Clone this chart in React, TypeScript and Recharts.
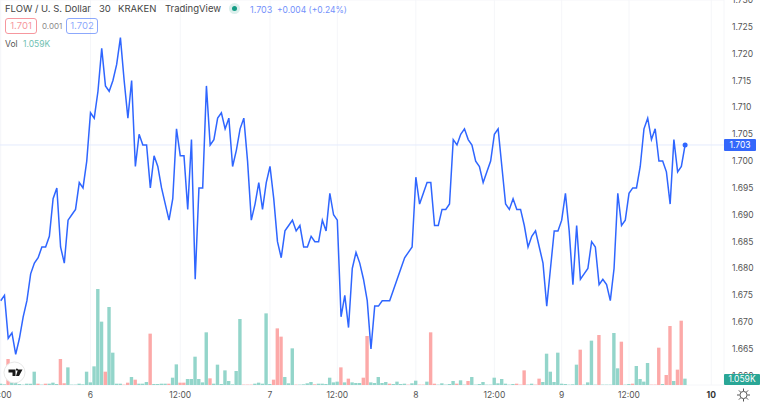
import { Bar, CartesianGrid, Cell, ComposedChart, Line, ReferenceDot, ReferenceLine, XAxis, YAxis } from 'recharts';

// 30 minute closes, one per bar
const closes = [
  1.674, 1.675, 1.667, 1.668, 1.664, 1.667, 1.671, 1.674, 1.679, 1.681, 1.682, 1.684, 1.684, 1.686, 1.693, 1.695,
  1.684, 1.681, 1.689, 1.69, 1.691, 1.696, 1.695, 1.7, 1.709, 1.708, 1.713, 1.721, 1.714, 1.713, 1.715, 1.718,
  1.723, 1.715, 1.708, 1.715, 1.699, 1.705, 1.703, 1.703, 1.695, 1.701, 1.699, 1.695, 1.692, 1.689, 1.693, 1.706,
  1.701, 1.701, 1.691, 1.704, 1.678, 1.695, 1.695, 1.714, 1.703, 1.704, 1.708, 1.709, 1.706, 1.708, 1.699, 1.702,
  1.706, 1.708, 1.7, 1.689, 1.692, 1.696, 1.691, 1.696, 1.699, 1.693, 1.685, 1.682, 1.687, 1.688, 1.689, 1.687,
  1.688, 1.684, 1.684, 1.686, 1.685, 1.685, 1.689, 1.687, 1.694, 1.69, 1.689, 1.671, 1.675, 1.669, 1.68, 1.683,
  1.681, 1.678, 1.674, 1.665, 1.673, 1.673, 1.674, 1.674, 1.674, 1.676, 1.678, 1.68, 1.682, 1.683, 1.684, 1.697,
  1.692, 1.694, 1.696, 1.696, 1.688, 1.688, 1.691, 1.691, 1.692, 1.704, 1.703, 1.705, 1.706, 1.704, 1.703, 1.7,
  1.699, 1.696, 1.698, 1.7, 1.705, 1.706, 1.699, 1.692, 1.691, 1.693, 1.691, 1.691, 1.688, 1.684, 1.686, 1.687,
  1.684, 1.681, 1.673, 1.68, 1.687, 1.687, 1.689, 1.694, 1.687, 1.677, 1.688, 1.678, 1.679, 1.68, 1.685, 1.684,
  1.677, 1.678, 1.677, 1.674, 1.68, 1.694, 1.688, 1.689, 1.694, 1.695, 1.695, 1.699, 1.706, 1.708, 1.704, 1.706,
  1.7, 1.7, 1.698, 1.692, 1.704, 1.698, 1.699, 1.703,
];

// volume in thousands
const volumes = [
  0.22, 0.11, 4.33, 0.44, 0.56, 0.17, 0.06, 0.22, 0.22, 2.22, 0.22, 0.06, 0.22, 0.22, 0.39, 0.17,
  4.33, 0.28, 2.94, 0.06, 0.06, 0.22, 0.11, 2.22, 0.44, 3.11, 16, 10.56, 2.22, 13, 5.39, 0.22,
  0.22, 0.06, 0.39, 1.33, 0.89, 0.22, 0.22, 0.5, 8.56, 0.17, 0.17, 0.22, 0.22, 0.22, 1.22, 3.44,
  0.39, 0.39, 1, 1, 4.72, 1, 0.44, 8.78, 1.11, 0.22, 3.39, 0.17, 2.44, 0.67, 0.11, 2.33,
  11, 0.06, 0.06, 0.06, 0.22, 0.39, 0.22, 11.94, 0.17, 0.89, 9.44, 8.06, 1.33, 0.28, 6.11, 0.06,
  0.06, 0.11, 0.28, 0.5, 0.11, 0.22, 0.22, 0.17, 1.22, 0.44, 0.56, 2.94, 0.44, 1.06, 0.44, 0.33,
  0.33, 1.22, 8.17, 0.44, 0.33, 1.33, 0.33, 0.5, 0.22, 0.17, 0.56, 0.17, 0.22, 0.06, 0.28, 0.72,
  0.06, 0.06, 0.56, 8.78, 0.22, 0.06, 0.28, 0.06, 0.17, 0.67, 0.22, 0.78, 0.06, 0.67, 1.33, 0.06,
  0.17, 0.5, 0.06, 0.06, 1.22, 0.28, 1, 0.22, 0.06, 0.17, 0.22, 0.06, 2.44, 0.06, 0.22, 0.06,
  1.06, 0.5, 5.22, 2.22, 0.5, 5.39, 0.22, 0.17, 0.06, 0.11, 3.39, 5.89, 0.06, 0.44, 7.39, 0.06,
  8.33, 0.06, 0.06, 0.06, 8.67, 2.78, 7.22, 0.06, 0.17, 0.22, 3.17, 1, 0.56, 3.67, 0.06, 0.06,
  6.22, 0.17, 1.67, 9.83, 0.67, 2.56, 10.72, 1.059,
];

// bars that closed down, drawn red
const downBars = [
  2, 10, 12, 16, 17, 28, 33, 34, 36, 40, 45, 48, 49, 56, 65, 66, 67, 73, 74, 75, 79, 84, 91, 93, 97, 98, 104,
  109, 112, 113, 115, 116, 122, 125, 138, 139, 140, 143, 144, 155, 160, 166, 169, 174, 175, 176, 178, 179, 181, 182,
];

const timeTicks = [0, 24, 48, 72, 90, 111, 132, 150, 168, 190];
const timeLabels = ['12:00', '6', '12:00', '7', '12:00', '8', '12:00', '9', '12:00', '10'];
const priceTicks = [
  1.66, 1.665, 1.67, 1.675, 1.68, 1.685, 1.69, 1.695, 1.7, 1.705, 1.71, 1.715, 1.72, 1.725, 1.73,
];

const lastIndex = closes.length - 1;
const lastPrice = closes[lastIndex];
const data = closes.map((close, i) => ({ i, close, volume: volumes[i] }));

const FONT = 'Inter, Roboto, sans-serif';
const BLUE = '#2f66ff';
const GRID = '#f5f6f9';

function TimeTick({ x, payload }: any) {
  const idx = timeTicks.indexOf(payload.value);
  const label = timeLabels[idx];
  const isBold = label === '10';
  return (
    <text x={x} y={395} textAnchor="middle" dominantBaseline="central" fontSize={8.5} fontFamily={FONT} fill={isBold ? '#333' : '#555'} fontWeight={isBold ? 700 : 400}>
      {label}
    </text>
  );
}

function Label({ left, top, color, size = 8.5, children }: any) {
  return (
    <div style={{ position: 'absolute', left, top, color, fontSize: size, lineHeight: '12px', whiteSpace: 'nowrap', fontFamily: FONT }}>
      {children}
    </div>
  );
}

function Box({ left, color, children }: any) {
  return (
    <div style={{ position: 'absolute', left, top: 18, width: 32, height: 16, boxSizing: 'border-box', border: `1px solid ${color}`, borderRadius: 3, opacity: 0.65, color, fontSize: 9.5, lineHeight: '14px', textAlign: 'center', fontFamily: FONT }}>
      {children}
    </div>
  );
}

function Tag({ top, height, width, color, children }: any) {
  return (
    <div style={{ position: 'absolute', left: 724, top, width, height, background: color, borderRadius: 1, color: '#fff', fontSize: 8.5, lineHeight: `${height}px`, textAlign: 'center', fontFamily: FONT }}>
      {children}
    </div>
  );
}

export default function App() {
  return (
    <div style={{ position: 'absolute', left: 0, top: 0, width: 761, height: 403, overflow: 'hidden', background: '#fff' }}>
      <ComposedChart width={761} height={403} data={data} margin={{ top: 0, right: 0, bottom: 0, left: 0 }}>
        <CartesianGrid stroke={GRID} strokeWidth={1} />
        <XAxis
          dataKey="i"
          type="number"
          scale="linear"
          domain={[-0.198, 193.4]}
          ticks={timeTicks}
          interval={0}
          allowDataOverflow
          tick={<TimeTick />}
          tickLine={false}
          axisLine={false}
          height={18}
          tickMargin={0}
        />
        <YAxis
          yAxisId="price"
          orientation="right"
          domain={[1.6583, 1.73]}
          ticks={priceTicks}
          interval={0}
          allowDataOverflow
          width={37}
          tickFormatter={(v: number) => v.toFixed(3)}
          tick={{ fontSize: 8.5, fontFamily: FONT, fill: '#555' }}
          tickLine={false}
          axisLine={false}
          tickSize={0}
          tickMargin={8}
        />
        <YAxis yAxisId="volume" hide domain={[0, 64.17]} allowDataOverflow />
        <Bar yAxisId="volume" dataKey="volume" barSize={3.4} isAnimationActive={false}>
          {data.map((d) => (
            <Cell key={d.i} fill={downBars.includes(d.i) ? '#fca9a8' : '#93d5ca'} />
          ))}
        </Bar>
        <ReferenceLine yAxisId="price" y={lastPrice} stroke="#e4ebfd" strokeWidth={1} />
        <Line yAxisId="price" type="linear" dataKey="close" stroke={BLUE} strokeWidth={1.5} dot={false} activeDot={false} isAnimationActive={false} />
        <ReferenceDot yAxisId="price" x={lastIndex} y={lastPrice} r={2.5} fill={BLUE} stroke={BLUE} strokeWidth={0} />
      </ComposedChart>

      <Label left={5} top={3} color="#444" size={9.5}>FLOW / U. S. Dollar</Label>
      <Label left={99} top={3} color="#444" size={9.5}>30</Label>
      <Label left={118} top={3} color="#444" size={9.5}>KRAKEN</Label>
      <Label left={165} top={3} color="#444" size={9.5}>TradingView</Label>
      <div style={{ position: 'absolute', left: 229, top: 3, width: 11, height: 11, borderRadius: '50%', background: '#dcefec' }} />
      <div style={{ position: 'absolute', left: 232, top: 6, width: 5, height: 5, borderRadius: '50%', background: '#139c85' }} />
      <Label left={250} top={4} color="#7391fb" size={9}>1.703</Label>
      <Label left={277} top={4} color="#7391fb" size={8.5}>+0.004 (+0.24%)</Label>
      <Box left={5} color="#f2606b">1.701</Box>
      <Label left={42} top={20} color="#8a8a8a" size={8}>0.001</Label>
      <Box left={66} color="#4f7bfb">1.702</Box>
      <Label left={5} top={38} color="#555" size={8.5}>Vol</Label>
      <Label left={23} top={38} color="#6fc1b2" size={8.5}>1.059K</Label>

      <Tag top={139} height={12} width={32} color="#3467fb">1.703</Tag>
      <Tag top={374} height={11} width={36} color="#2aa696">1.059K</Tag>

      <svg style={{ position: 'absolute', left: 3, top: 361 }} width={23} height={23}>
        <circle cx={11.5} cy={11.5} r={10.5} fill="#fff" stroke="#e8e8e8" />
        <path d="M5.5 8.5h7v6.5h-3v-3.5h-4z M15 8.5h4.5l-3.5 6.5h-3z M13 8.5a1 1 0 1 1 0 .1z" fill="#1a1a1a" />
      </svg>
      <svg style={{ position: 'absolute', left: 735, top: 387 }} width={17} height={16}>
        <circle cx={8.5} cy={8} r={3.6} fill="none" stroke="#555" strokeWidth={1} />
        <path d="M8.5 1.5v2.5 M8.5 12v2.5 M2 8h2.5 M12.5 8h2.5 M3.9 3.4l1.8 1.8 M11.3 10.8l1.8 1.8 M3.9 12.6l1.8-1.8 M11.3 5.2l1.8-1.8" stroke="#555" strokeWidth={1} />
      </svg>
    </div>
  );
}
